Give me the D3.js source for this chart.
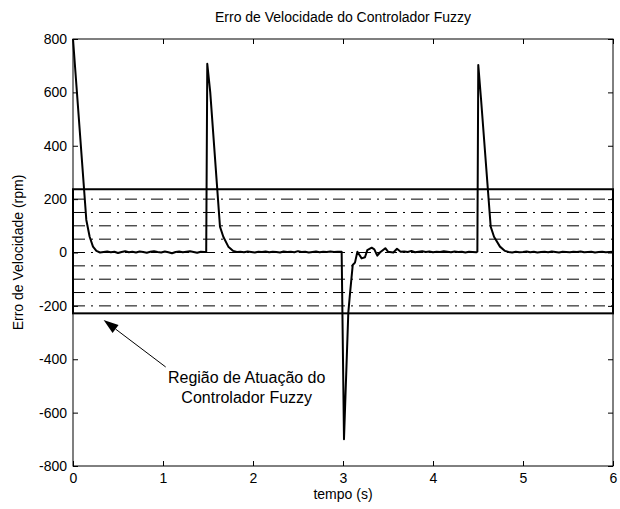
<!DOCTYPE html>
<html>
<head>
<meta charset="utf-8">
<script src="https://cdnjs.cloudflare.com/ajax/libs/d3/7.8.5/d3.min.js"></script>
<style>
  body { margin: 0; background: #fff; }
  text { font-family: "Liberation Sans", Arial, sans-serif; fill: #000; }
  .tick line { stroke: #000; }
  path.domain { stroke: none; }
</style>
</head>
<body>
<svg id="chart" width="620" height="509"></svg>
<script>
// tempo (s) e erro (rpm)
var tempo = [
  0, 0.148, 0.185, 0.222, 0.26, 0.3,
  0.34, 0.38, 0.42, 0.46, 0.5, 0.54, 0.58, 0.62, 0.66, 0.7, 0.74, 0.78, 0.82, 0.86, 0.9,
  0.94, 0.98, 1.02, 1.06, 1.1, 1.14, 1.18, 1.22, 1.26, 1.3, 1.34, 1.38, 1.42, 1.46,
  1.48, 1.492, 1.525, 1.633, 1.67, 1.726, 1.78,
  1.82, 1.86, 1.9, 1.94, 1.98, 2.02, 2.06, 2.1, 2.14, 2.18, 2.22, 2.26, 2.3, 2.34, 2.38,
  2.42, 2.46, 2.5, 2.54, 2.58, 2.62, 2.66, 2.7, 2.74, 2.78, 2.82, 2.86, 2.9, 2.94, 2.985,
  3.011, 3.059, 3.078, 3.108, 3.133, 3.16, 3.207, 3.244, 3.27, 3.319, 3.348, 3.381, 3.41,
  3.47, 3.5, 3.56, 3.6, 3.64,
  3.68, 3.72, 3.76, 3.8, 3.84, 3.88, 3.92, 3.96, 4.0, 4.04, 4.08, 4.12, 4.16, 4.2, 4.24,
  4.28, 4.32, 4.36, 4.4, 4.44, 4.48,
  4.493, 4.503, 4.533, 4.641, 4.678, 4.744, 4.8,
  4.84, 4.88, 4.92, 4.96, 5.0, 5.04, 5.08, 5.12, 5.16, 5.2, 5.24, 5.28, 5.32, 5.36, 5.4,
  5.44, 5.48, 5.52, 5.56, 5.6, 5.64, 5.68, 5.72, 5.76, 5.8, 5.84, 5.88, 5.92, 5.96, 6.0
];
var erro = [
  800, 122, 59, 22, 6, 0,
  2, 4, 1, 3, -2, 2, 5, 1, 3, 0, 4, 2, -1, 3, 5,
  2, 0, 4, 1, -3, 2, 4, 1, 3, 5, 2, -1, 3, 2,
  3, 707, 600, 97, 59, 22, 6,
  2, 3, 1, 4, 2, 0, 3, 2, 4, 1, 3, 2, 0, 4, 2,
  3, 1, 5, 2, 3, 0, 2, 4, 1, 3, 2, 4, 2, 3, 3,
  -700, -225, -153, -47, -38, 3, -22, -18, 9, 18, 12, -12, 0,
  16, 3, 0, 14, 3,
  4, 2, 6, 1, 3, 5, 2, 4, 1, 3, 2, 5, 3, 1, 4,
  2, 3, 0, 3, 2, 1,
  3, 703, 578, 97, 59, 22, 6,
  2, 0, 3, 1, 2, 4, 1, 3, 0, 2, 3, 1, 4, 2, 0,
  3, 2, 1, 3, 2, 4, 1, 2, 3, 0, 2, 3, 1, 2, 3
];

var xTicks = [0, 1, 2, 3, 4, 5, 6];
var yTicks = [-800, -600, -400, -200, 0, 200, 400, 600, 800];

// regiao de atuacao do controlador fuzzy
var regiaoLimites = [-228, 237];
var faixas = [-200, -150, -100, -50, 0, 50, 100, 150, 200];

var anotacao = ["Região de Atuação do", "Controlador Fuzzy"];

var margin = {top: 39, right: 7, bottom: 43, left: 73};
var width = 620 - margin.left - margin.right;
var height = 509 - margin.top - margin.bottom;

var svg = d3.select("#chart");
var g = svg.append("g").attr("transform", `translate(${margin.left},${margin.top})`);

var xScale = d3.scaleLinear().domain([0, 6]).range([0, width]);
var yScale = d3.scaleLinear().domain([-800, 800]).range([height, 0]);

// linhas traco-ponto
g.selectAll("line.faixa")
  .data(faixas)
  .enter().append("line")
    .attr("class", "faixa")
    .attr("x1", 0).attr("x2", width)
    .attr("y1", d => yScale(d)).attr("y2", d => yScale(d))
    .attr("stroke", "#000")
    .attr("stroke-width", 1)
    .attr("stroke-dasharray", "12,6,2,6");

// retangulo da regiao
g.append("rect")
  .attr("x", xScale(0))
  .attr("y", yScale(regiaoLimites[1]))
  .attr("width", xScale(6) - xScale(0))
  .attr("height", yScale(regiaoLimites[0]) - yScale(regiaoLimites[1]))
  .attr("fill", "none")
  .attr("stroke", "#000")
  .attr("stroke-width", 2);

// curva do erro
var pontos = tempo.map((t, i) => [t, erro[i]]);
var linha = d3.line()
  .x(d => xScale(d[0]))
  .y(d => yScale(d[1]));

g.append("path")
  .attr("d", linha(pontos))
  .attr("fill", "none")
  .attr("stroke", "#000")
  .attr("stroke-width", 2)
  .attr("stroke-linejoin", "round");

// eixos (ticks para dentro, caixa fechada)
var fontSize = 14;
var fmt = d => String(d);
g.append("g")
  .attr("transform", `translate(0,${height})`)
  .call(d3.axisBottom(xScale).tickValues(xTicks).tickSize(-5).tickPadding(7).tickFormat(fmt))
  .call(a => a.selectAll("text").attr("font-size", fontSize).style("font-family", "'Liberation Sans', Arial"));
g.append("g")
  .call(d3.axisTop(xScale).tickValues(xTicks).tickSize(-5).tickFormat(""));
g.append("g")
  .call(d3.axisLeft(yScale).tickValues(yTicks).tickSize(-5).tickPadding(6).tickFormat(fmt))
  .call(a => a.selectAll("text").attr("font-size", fontSize).style("font-family", "'Liberation Sans', Arial"));
g.append("g")
  .attr("transform", `translate(${width},0)`)
  .call(d3.axisRight(yScale).tickValues(yTicks).tickSize(-5).tickFormat(""));

g.append("rect")
  .attr("width", width).attr("height", height)
  .attr("fill", "none").attr("stroke", "#000").attr("stroke-width", 1);

// seta e texto de anotacao
var setaInicio = [1.03, -429];
var setaFim = [0.34, -253];
var x1 = xScale(setaInicio[0]), y1 = yScale(setaInicio[1]);
var x2 = xScale(setaFim[0]), y2 = yScale(setaFim[1]);
var ang = Math.atan2(y2 - y1, x2 - x1);
var comp = 15, larg = 5;
var bx = x2 - comp * Math.cos(ang), by = y2 - comp * Math.sin(ang);
g.append("line")
  .attr("x1", x1).attr("y1", y1).attr("x2", bx).attr("y2", by)
  .attr("stroke", "#000").attr("stroke-width", 1);
g.append("path")
  .attr("d", `M${x2},${y2}L${bx + larg * Math.sin(ang)},${by - larg * Math.cos(ang)}L${bx - larg * Math.sin(ang)},${by + larg * Math.cos(ang)}Z`)
  .attr("fill", "#000");

g.selectAll("text.anot")
  .data(anotacao)
  .enter().append("text")
    .attr("class", "anot")
    .attr("x", xScale(1.93))
    .attr("y", (d, i) => yScale(-489) + i * 20)
    .attr("text-anchor", "middle")
    .attr("font-size", 16)
    .text(d => d);

// titulos
svg.append("text")
  .attr("x", margin.left + width / 2).attr("y", 22)
  .attr("text-anchor", "middle").attr("font-size", fontSize)
  .text("Erro de Velocidade do Controlador Fuzzy");
svg.append("text")
  .attr("x", margin.left + width / 2).attr("y", 499)
  .attr("text-anchor", "middle").attr("font-size", fontSize)
  .text("tempo (s)");
svg.append("text")
  .attr("transform", `translate(23,${margin.top + height / 2}) rotate(-90)`)
  .attr("text-anchor", "middle").attr("font-size", fontSize)
  .text("Erro de Velocidade (rpm)");
</script>
</body>
</html>
